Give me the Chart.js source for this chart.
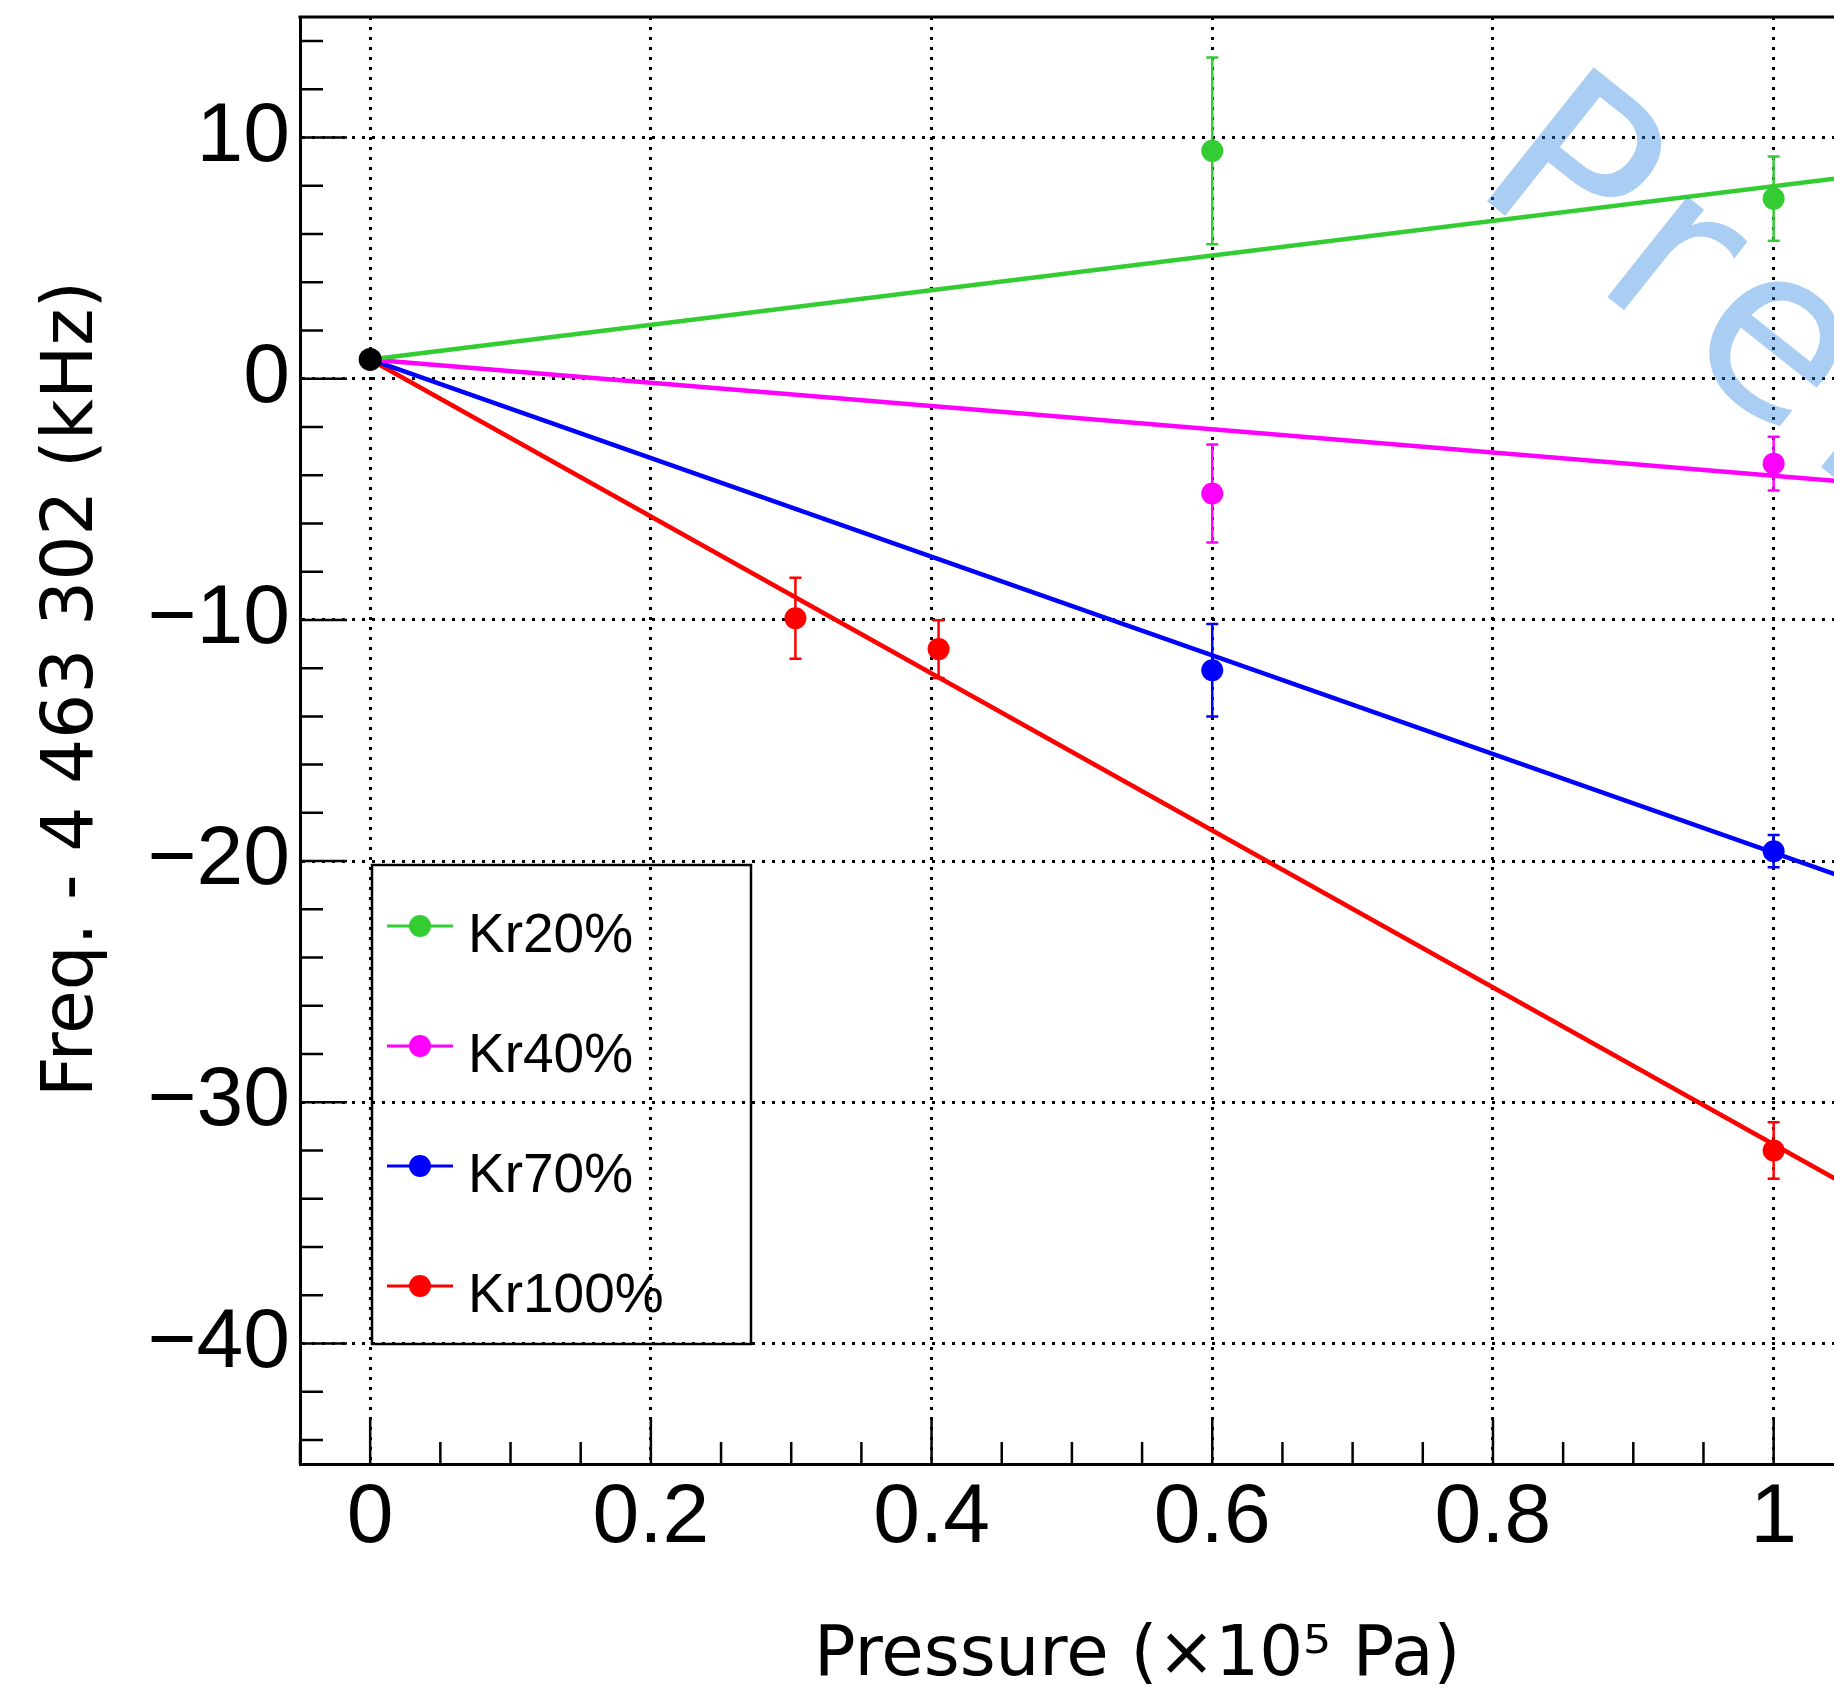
<!DOCTYPE html>
<html>
<head>
<meta charset="utf-8">
<script src="https://cdn.jsdelivr.net/npm/chart.js@4.4.0/dist/chart.umd.min.js"></script>
<style>
  html, body { margin: 0; padding: 0; background: #fff; overflow: hidden; }
  #wrap { width: 1834px; height: 1688px; position: relative; }
  #wrap canvas { display: block; }
</style>
</head>
<body>
<div id="wrap"><canvas id="freqChart"></canvas></div>
<script>
// --- data ---
const refX = [0];
const refY = [0.8];

const kr20X   = [0.6, 1.0];
const kr20Y   = [9.45, 7.47];
const kr20Err = [3.87, 1.75];

const kr40X   = [0.6, 1.0];
const kr40Y   = [-4.76, -3.52];
const kr40Err = [2.03, 1.11];

const kr70X   = [0.6, 1.0];
const kr70Y   = [-12.09, -19.59];
const kr70Err = [1.92, 0.67];

const kr100X   = [0.303, 0.405, 1.0];
const kr100Y   = [-9.93, -11.21, -32.0];
const kr100Err = [1.68, 1.2, 1.17];

// fitted lines: start and end points as seen in the plot
const fitX     = [0, 1.1];
const fit20Y   = [0.8, 8.7];
const fit40Y   = [0.8, -4.5];
const fit70Y   = [0.8, -21.7];
const fit100Y  = [0.8, -35.0];

const seriesLabels = ['Kr20%', 'Kr40%', 'Kr70%', 'Kr100%'];
const xTicks = [0, 0.2, 0.4, 0.6, 0.8, 1];
const yTicks = [-40, -30, -20, -10, 0, 10];

const xTitle = 'Pressure (\u00d710\u2075 Pa)';
const yTitle = 'Freq. - 4 463 302 (kHz)';
const watermark = 'Preliminary';

const colors = ['#33cc33', '#ff00ff', '#0000ff', '#ff0000'];
const seriesX   = [kr20X, kr40X, kr70X, kr100X];
const seriesY   = [kr20Y, kr40Y, kr70Y, kr100Y];
const seriesErr = [kr20Err, kr40Err, kr70Err, kr100Err];
const fitsY     = [fit20Y, fit40Y, fit70Y, fit100Y];

const pts = (xs, ys) => xs.map((x, i) => ({ x, y: ys[i] }));

const datasets = [];
seriesLabels.forEach((lab, k) => {
  datasets.push({
    type: 'line',
    data: pts(fitX, fitsY[k]),
    borderColor: colors[k],
    borderWidth: 4.5,
    pointRadius: 0,
    fill: false,
    order: 3
  });
  datasets.push({
    type: 'scatter',
    label: lab,
    data: pts(seriesX[k], seriesY[k]),
    errorBars: seriesErr[k],
    backgroundColor: colors[k],
    borderWidth: 0,
    pointRadius: 11,
    order: 2,
    inLegend: true
  });
});
datasets.push({
  type: 'scatter',
  data: pts(refX, refY),
  backgroundColor: '#000',
  borderColor: '#000',
  borderWidth: 0,
  pointRadius: 11.5,
  order: 1
});

const tickFont  = { family: 'Liberation Sans', size: 84 };
const minus = v => String(v).replace('-', '\u2212');

// error bars, drawn under the markers
const errorBarPlugin = {
  id: 'errorBars',
  beforeDatasetsDraw(chart) {
    const { ctx, scales: { x, y } } = chart;
    ctx.save();
    chart.data.datasets.forEach(ds => {
      if (!ds.errorBars) return;
      ctx.strokeStyle = ds.backgroundColor;
      ctx.lineWidth = 2.5;
      ds.data.forEach((p, i) => {
        const e = ds.errorBars[i];
        const px = x.getPixelForValue(p.x);
        const y1 = y.getPixelForValue(p.y + e);
        const y2 = y.getPixelForValue(p.y - e);
        ctx.beginPath();
        ctx.moveTo(px, y1); ctx.lineTo(px, y2);
        ctx.moveTo(px - 6, y1); ctx.lineTo(px + 6, y1);
        ctx.moveTo(px - 6, y2); ctx.lineTo(px + 6, y2);
        ctx.stroke();
      });
    });
    ctx.restore();
  }
};

// ROOT-like frame: inner ticks, top border, legend box, titles, watermark
const framePlugin = {
  id: 'frame',
  afterDraw(chart) {
    const { ctx, chartArea: a, scales: { x, y } } = chart;
    ctx.save();
    ctx.strokeStyle = '#000';

    // top border
    ctx.lineWidth = 3;
    ctx.beginPath();
    ctx.moveTo(a.left - 1.5, a.top); ctx.lineTo(a.right, a.top);
    ctx.stroke();

    // inner ticks
    ctx.lineWidth = 2.5;
    ctx.beginPath();
    for (let i = Math.ceil(x.min / 0.05 - 1e-6); i * 0.05 <= x.max + 1e-9; i++) {
      const v = i * 0.05;
      const major = xTicks.some(t => Math.abs(t - v) < 1e-6);
      const px = x.getPixelForValue(v);
      ctx.moveTo(px, a.bottom); ctx.lineTo(px, a.bottom - (major ? 46 : 22));
    }
    for (let v = Math.ceil(y.min / 2) * 2; v <= y.max; v += 2) {
      const major = yTicks.includes(v);
      const py = y.getPixelForValue(v);
      ctx.moveTo(a.left, py); ctx.lineTo(a.left + (major ? 47 : 23), py);
    }
    ctx.stroke();

    // legend
    ctx.lineWidth = 2.5;
    ctx.strokeRect(372, 865, 379, 479);
    ctx.font = '55px "Liberation Sans"';
    ctx.textBaseline = 'alphabetic';
    ctx.textAlign = 'left';
    chart.data.datasets.filter(ds => ds.inLegend).forEach((ds, i) => {
      const cy = 926 + i * 120;
      ctx.strokeStyle = ds.backgroundColor;
      ctx.fillStyle = ds.backgroundColor;
      ctx.lineWidth = 3;
      ctx.beginPath();
      ctx.moveTo(387, cy); ctx.lineTo(453, cy);
      ctx.stroke();
      ctx.beginPath();
      ctx.arc(420, cy, 11, 0, Math.PI * 2);
      ctx.fill();
      ctx.fillStyle = '#000';
      ctx.fillText(ds.label, 468, cy + 26);
    });

    // axis titles
    ctx.fillStyle = '#000';
    ctx.font = '69px "DejaVu Sans"';
    ctx.textAlign = 'left';
    ctx.fillText(xTitle, 814, 1675);

    ctx.save();
    ctx.translate(92, 689);
    ctx.rotate(-Math.PI / 2);
    ctx.font = '71px "DejaVu Sans"';
    ctx.textAlign = 'center';
    ctx.fillText(yTitle, 0, 0);
    ctx.restore();

    // watermark
    ctx.save();
    ctx.translate(1469, 187);
    ctx.rotate(38.5 * Math.PI / 180);
    ctx.font = '235px "DejaVu Sans"';
    ctx.letterSpacing = '18px';
    ctx.fillStyle = 'rgba(40,130,225,0.4)';
    ctx.textAlign = 'left';
    ctx.fillText(watermark, 0, 0);
    ctx.restore();

    ctx.restore();
  }
};

new Chart(document.getElementById('freqChart').getContext('2d'), {
  type: 'scatter',
  data: { datasets },
  options: {
    responsive: true,
    maintainAspectRatio: false,
    devicePixelRatio: 1,
    animation: false,
    events: [],
    layout: { autoPadding: false, padding: { top: 17, left: 0, right: 0, bottom: 0 } },
    plugins: { legend: { display: false }, tooltip: { enabled: false } },
    scales: {
      x: {
        type: 'linear',
        min: -0.05,
        max: 1.043,
        afterBuildTicks: s => { s.ticks = xTicks.map(v => ({ value: v })); },
        afterFit: s => { s.height = 224; s.paddingLeft = 0; s.paddingRight = 0; },
        ticks: { font: tickFont, color: '#000', padding: 4, maxRotation: 0, autoSkip: false,
                 callback: v => minus(v) },
        grid: { color: '#000', lineWidth: 3, drawTicks: false },
        border: { display: true, color: '#000', width: 3, dash: [3, 7] }
      },
      y: {
        type: 'linear',
        min: -45,
        max: 15,
        afterBuildTicks: s => { s.ticks = yTicks.map(v => ({ value: v })); },
        afterFit: s => { s.width = 300; s.paddingTop = 0; s.paddingBottom = 0; },
        ticks: { font: tickFont, color: '#000', padding: 10, autoSkip: false,
                 callback: v => minus(v) },
        grid: { color: '#000', lineWidth: 3, drawTicks: false },
        border: { display: true, color: '#000', width: 3, dash: [3, 7] }
      }
    }
  },
  plugins: [errorBarPlugin, framePlugin]
});
</script>
</body>
</html>
